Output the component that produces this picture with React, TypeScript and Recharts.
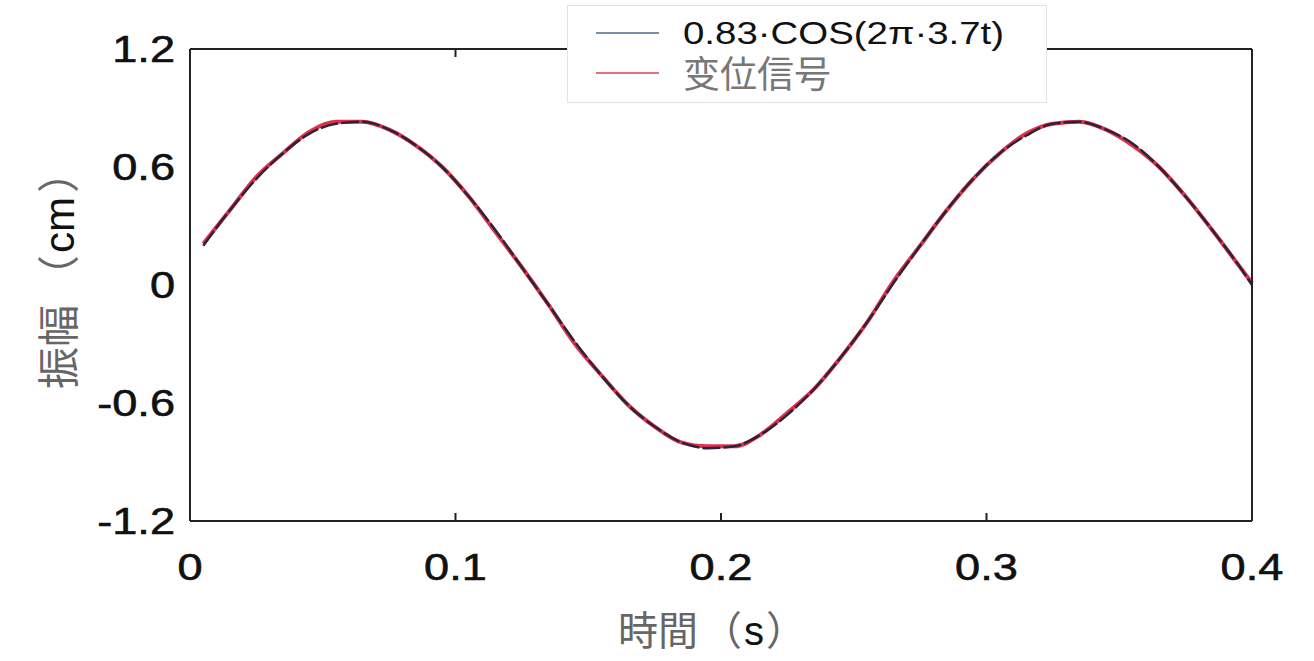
import React from 'react';
import { LineChart, Line, XAxis, YAxis, Legend } from 'recharts';

// time (s)
const times = [
  0.005, 0.015, 0.025, 0.035, 0.045, 0.055, 0.065, 0.075, 0.085, 0.095,
  0.105, 0.115, 0.125, 0.135, 0.145, 0.155, 0.165, 0.175, 0.185, 0.195,
  0.205, 0.215, 0.225, 0.235, 0.245, 0.255, 0.265, 0.275, 0.285, 0.295,
  0.305, 0.315, 0.325, 0.335, 0.345, 0.355, 0.365, 0.375, 0.385, 0.395, 0.4,
];

// 0.83·COS(2π·3.7t) fit (cm)
const cosValues = [
  0.2, 0.38, 0.54, 0.67, 0.77, 0.82, 0.83, 0.79, 0.71, 0.6,
  0.45, 0.28, 0.09, -0.1, -0.29, -0.46, -0.61, -0.72, -0.8, -0.83,
  -0.82, -0.76, -0.66, -0.53, -0.37, -0.19, 0.01, 0.2, 0.38, 0.54,
  0.67, 0.76, 0.82, 0.83, 0.79, 0.72, 0.6, 0.45, 0.28, 0.1, 0.0,
];

// 变位信号 (measured displacement)
const measuredValues = [
  0.21, 0.38, 0.55, 0.67, 0.78, 0.83, 0.83, 0.79, 0.71, 0.6,
  0.45, 0.27, 0.09, -0.1, -0.3, -0.46, -0.61, -0.72, -0.8, -0.82,
  -0.82, -0.76, -0.65, -0.53, -0.37, -0.19, 0.02, 0.2, 0.38, 0.54,
  0.67, 0.77, 0.82, 0.83, 0.79, 0.71, 0.6, 0.45, 0.28, 0.1, 0.01,
];

const xTicks = [0, 0.1, 0.2, 0.3, 0.4];
const xTickLabels = ['0', '0.1', '0.2', '0.3', '0.4'];
const yTicks = [-1.2, -0.6, 0, 0.6, 1.2];
const yTickLabels = ['-1.2', '-0.6', '0', '0.6', '1.2'];

const data = times.map((t, i) => ({ t, fit: cosValues[i], signal: measuredValues[i] }));

const LATIN = '"Liberation Sans", Arial, sans-serif';
const CJK = '"Noto Sans CJK JP", "Noto Sans CJK SC", sans-serif';
const AXIS = { stroke: '#222', strokeWidth: 2 };

const labelFor = (ticks: number[], labels: string[], v: number) => {
  const i = ticks.findIndex((t) => Math.abs(t - v) < 1e-9);
  return i >= 0 ? labels[i] : String(v);
};

const NoLabel = () => <g />;

function YTick({ x, y, payload }: any) {
  return (
    <g transform={`translate(${x},${y})`}>
      <text transform="scale(1.22,1)" textAnchor="end" dy="0.36em" fontSize={37} fontFamily={LATIN} fill="#111" stroke="#111" strokeWidth={0.6}>
        {labelFor(yTicks, yTickLabels, payload.value)}
      </text>
    </g>
  );
}

function XTick({ x, y, payload }: any) {
  return (
    <g transform={`translate(${x},${y})`}>
      <text transform="scale(1.22,1)" textAnchor="middle" dy={37} fontSize={37} fontFamily={LATIN} fill="#111" stroke="#111" strokeWidth={0.6}>
        {labelFor(xTicks, xTickLabels, payload.value)}
      </text>
    </g>
  );
}

function YTitle() {
  return (
    <text transform="translate(74,270) rotate(-90)" textAnchor="middle" fontSize={42}>
      <tspan fontFamily={CJK} fill="#666">振幅</tspan>
      <tspan fontFamily={CJK} fill="#666" dx={8}>（</tspan>
      <tspan fontFamily={LATIN} fill="#111" dx={2}>cm</tspan>
      <tspan fontFamily={CJK} fill="#666" dx={4}>）</tspan>
    </text>
  );
}

function XTitle() {
  return (
    <text x={712} y={645} textAnchor="middle" fontSize={40}>
      <tspan fontFamily={CJK} fill="#666">時間</tspan>
      <tspan fontFamily={CJK} fill="#666" dx={4}>（</tspan>
      <tspan fontFamily={LATIN} fill="#111" dx={2}>s</tspan>
      <tspan fontFamily={CJK} fill="#666" dx={2}>）</tspan>
    </text>
  );
}

function LegendBox() {
  const row = (top: number, color: string, label: React.ReactNode) => (
    <div style={{ position: 'absolute', left: 0, top, height: 40, width: '100%' }}>
      <div style={{ position: 'absolute', left: 28, top: 19, width: 63, height: 2, background: color }} />
      {label}
    </div>
  );
  return (
    <div style={{ position: 'relative', width: 478, height: 96, background: '#fff', border: '1px solid #e2e2e2' }}>
      {row(
        7,
        '#7d8fa8',
        <div style={{ position: 'absolute', left: 115, top: 1, fontFamily: LATIN, fontSize: 32, lineHeight: '38px', color: '#111', transform: 'scaleX(1.2)', transformOrigin: 'left center', whiteSpace: 'nowrap' }}>
          0.83·COS(2π·3.7t)
        </div>,
      )}
      {row(
        47,
        '#ea6e80',
        <div style={{ position: 'absolute', left: 115, top: -3, fontFamily: CJK, fontSize: 37, lineHeight: '44px', color: '#777', whiteSpace: 'nowrap' }}>
          变位信号
        </div>,
      )}
    </div>
  );
}

export default function App() {
  return (
    <div style={{ position: 'absolute', left: 0, top: 0, width: 1314, height: 661, background: '#fff' }}>
      <LineChart width={1314} height={661} data={data} margin={{ top: 49, right: 62, left: 0, bottom: 0 }}>
        {/* labelled axes */}
        <XAxis
          dataKey="t"
          type="number"
          domain={[0, 0.4]}
          ticks={xTicks}
          height={140}
          axisLine={AXIS}
          tickLine={false}
          tickMargin={16}
          tick={<XTick />}
          label={{ content: <XTitle /> }}
        />
        <YAxis
          type="number"
          domain={[-1.2, 1.2]}
          ticks={yTicks}
          width={190}
          axisLine={AXIS}
          tickLine={false}
          tickMargin={9}
          tick={<YTick />}
          label={{ content: <YTitle /> }}
        />
        {/* box edges and inward tick marks (mirrored, no labels) */}
        <XAxis xAxisId="bottomTicks" dataKey="t" type="number" domain={[0, 0.4]} ticks={xTicks} mirror axisLine={false} tickLine={AXIS} tickSize={8} tick={NoLabel} />
        <XAxis xAxisId="top" orientation="top" dataKey="t" type="number" domain={[0, 0.4]} ticks={xTicks} mirror axisLine={AXIS} tickLine={AXIS} tickSize={8} tick={NoLabel} />
        <YAxis yAxisId="leftTicks" type="number" domain={[-1.2, 1.2]} ticks={yTicks} mirror axisLine={false} tickLine={AXIS} tickSize={8} tick={NoLabel} />
        <YAxis yAxisId="right" orientation="right" type="number" domain={[-1.2, 1.2]} ticks={yTicks} mirror axisLine={AXIS} tickLine={AXIS} tickSize={8} tick={NoLabel} />
        <Legend
          layout="horizontal"
          verticalAlign="middle"
          align="center"
          wrapperStyle={{ left: 567, top: 5, width: 480, height: 98 }}
          content={() => <LegendBox />}
        />
        <Line
          dataKey="signal"
          name="变位信号"
          type="monotone"
          stroke="#e0304c"
          strokeWidth={4}
          dot={false}
          isAnimationActive={false}
        />
        <Line
          dataKey="fit"
          name="0.83·COS(2π·3.7t)"
          type="monotone"
          stroke="#2c2434"
          strokeWidth={2.5}
          strokeDasharray="18 3"
          dot={false}
          isAnimationActive={false}
        />
      </LineChart>
    </div>
  );
}
